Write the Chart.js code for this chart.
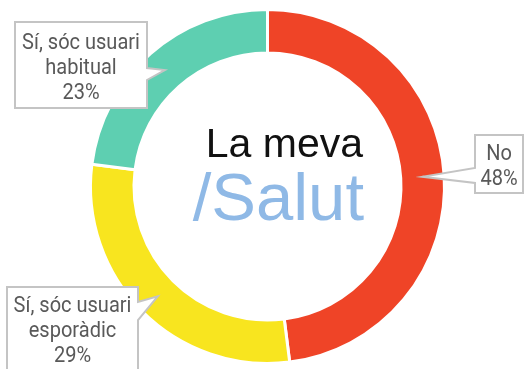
<!DOCTYPE html>
<html>
<head>
<meta charset="utf-8">
<script src="https://cdn.jsdelivr.net/npm/chart.js@4"></script>
<style>
  html, body { margin: 0; padding: 0; background: #ffffff; }
  #wrap { width: 525px; height: 369px; position: relative; }
</style>
</head>
<body>
<div id="wrap"><canvas id="c"></canvas></div>
<script>
// ---- Data ----
const categories = ['No', 'Sí, sóc usuari esporàdic', 'Sí, sóc usuari habitual'];
const values = [48, 29, 23];
const calloutLines = [['No'], ['Sí, sóc usuari', 'esporàdic'], ['Sí, sóc usuari', 'habitual']];
const sliceColors = ['#EF4427', '#F8E51F', '#5ECFB1'];
const centerTitle = 'La meva';
const centerBrand = '/Salut';

// ---- Callout geometry (layout only) ----
const callouts = [
  { x: 475, y: 135, w: 48, h: 58, side: 'left', b1: 168, b2: 183, tx: 499, base: 160, lh: 25 },
  { x: 7, y: 287, w: 131, h: 100, side: 'right', b1: 302, b2: 320, tx: 72.5, base: 312, lh: 25 },
  { x: 15, y: 22, w: 132, h: 86, side: 'right', b1: 68, b2: 80, tx: 81, base: 49, lh: 25 }
];

const calloutFont = '22px Roboto, "Liberation Sans", sans-serif';
const calloutScaleX = 0.91;

const calloutPlugin = {
  id: 'callouts',
  afterDraw(chart) {
    const ctx = chart.ctx;
    const meta = chart.getDatasetMeta(0);
    // center text
    ctx.save();
    ctx.textAlign = 'right';
    ctx.textBaseline = 'alphabetic';
    ctx.fillStyle = '#111111';
    ctx.font = '41px "Liberation Sans", Arial, sans-serif';
    ctx.fillText(centerTitle, 363, 157);
    ctx.fillStyle = '#8FB9E6';
    ctx.font = '67px "Liberation Sans", Arial, sans-serif';
    ctx.fillText(centerBrand, 364, 220);
    ctx.restore();

    meta.data.forEach((arc, i) => {
      const c = callouts[i];
      const tip = arc.getCenterPoint();
      ctx.save();
      ctx.beginPath();
      if (c.side === 'right') {
        ctx.moveTo(c.x, c.y);
        ctx.lineTo(c.x + c.w, c.y);
        ctx.lineTo(c.x + c.w, c.b1);
        ctx.lineTo(tip.x, tip.y);
        ctx.lineTo(c.x + c.w, c.b2);
        ctx.lineTo(c.x + c.w, c.y + c.h);
        ctx.lineTo(c.x, c.y + c.h);
      } else {
        ctx.moveTo(c.x, c.y);
        ctx.lineTo(c.x + c.w, c.y);
        ctx.lineTo(c.x + c.w, c.y + c.h);
        ctx.lineTo(c.x, c.y + c.h);
        ctx.lineTo(c.x, c.b2);
        ctx.lineTo(tip.x, tip.y);
        ctx.lineTo(c.x, c.b1);
      }
      ctx.closePath();
      ctx.fillStyle = '#ffffff';
      ctx.fill();
      ctx.lineWidth = 2;
      ctx.strokeStyle = '#C4C4C4';
      ctx.lineJoin = 'miter';
      ctx.stroke();

      const lines = calloutLines[i].concat([values[i] + '%']);
      ctx.fillStyle = '#595959';
      ctx.font = calloutFont;
      ctx.textAlign = 'center';
      ctx.textBaseline = 'alphabetic';
      lines.forEach((t, k) => {
        ctx.save();
        ctx.translate(c.tx, c.base + k * c.lh);
        ctx.scale(calloutScaleX, 1);
        ctx.fillText(t, 0, 0);
        ctx.restore();
      });
      ctx.restore();
    });
  }
};

new Chart(document.getElementById('c'), {
  type: 'doughnut',
  data: {
    labels: categories,
    datasets: [{
      data: values,
      backgroundColor: sliceColors,
      borderColor: '#ffffff',
      borderWidth: 3,
      hoverOffset: 0
    }]
  },
  options: {
    responsive: true,
    maintainAspectRatio: false,
    devicePixelRatio: 1,
    animation: false,
    cutout: 133.5,
    layout: { padding: { top: 8, bottom: 4, left: 89, right: 79 } },
    plugins: {
      legend: { display: false },
      tooltip: { enabled: false }
    }
  },
  plugins: [calloutPlugin]
});
</script>
</body>
</html>
